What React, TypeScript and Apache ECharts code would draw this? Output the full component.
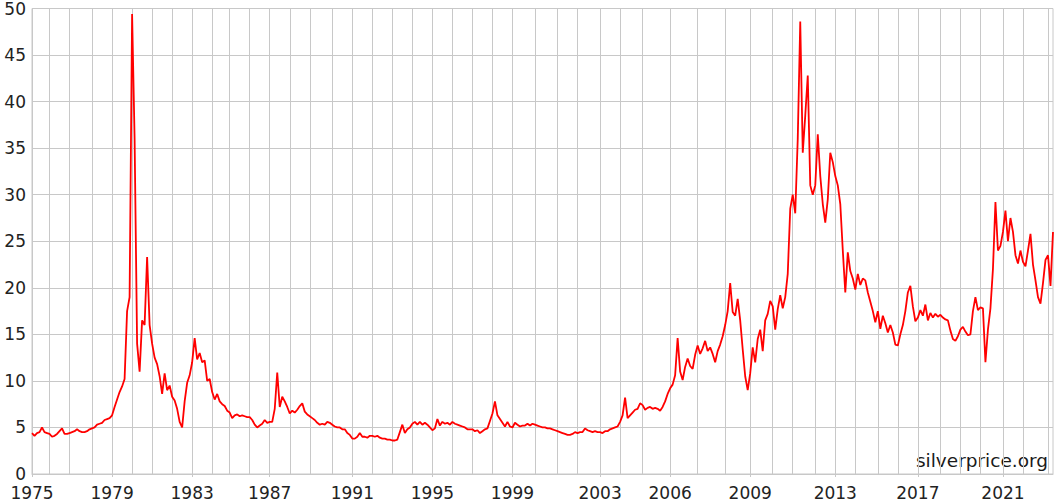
import React, { useEffect, useRef } from 'react';
import * as echarts from 'echarts';

// silver price, USD per ounce, sampled unevenly per year (as the source does)
const firstYear = 1975;
const samplesPerYear = [
  7, 8, 9, 8, 8, // 1975-1979
  8, 8, 8, 8, 7, 8, 8, 8, 8, 9, // 1980s
  8, 8, 8, 8, 8, 8, 8, 8, 8, 9, // 1990s
  9, 8, 9, 8, 9, 11, 11, 11, 10, 9, // 2000s
  8, 9, 8, 8, 9, 8, 8, 9, 8, 8, // 2010s
  9, 8, 10, 3, // 2020-2023
];

const prices1970s = [
  4.4, 4.1, 4.4, 4.5, 5.0, 4.5, 4.4,
  4.3, 4.0, 4.1, 4.3, 4.6, 4.9, 4.3, 4.3,
  4.4, 4.5, 4.6, 4.8, 4.6, 4.5, 4.5, 4.6, 4.8,
  4.9, 5.0, 5.3, 5.4, 5.5, 5.8, 5.9, 6.0,
  6.3, 7.2, 8.0, 8.8, 9.4, 10.2, 17.5, 19.0,
];

const prices1980s = [
  49.4, 36.0, 14.0, 11.0, 16.5, 16.0, 23.3, 16.0,
  14.0, 12.5, 11.8, 10.5, 8.6, 10.8, 9.0, 9.5,
  8.3, 7.9, 7.0, 5.6, 5.0, 7.8, 9.8, 10.6,
  12.0, 14.6, 12.3, 13.0, 12.0, 12.2, 10.0, 10.2,
  8.8, 8.0, 8.6, 7.8, 7.5, 7.3, 6.8,
  6.6, 6.0, 6.3, 6.4, 6.2, 6.3, 6.2, 6.1,
  6.1, 5.8, 5.3, 5.0, 5.2, 5.4, 5.8, 5.5,
  5.6, 5.6, 7.0, 10.9, 7.2, 8.3, 7.8, 7.2,
  6.5, 6.8, 6.6, 6.9, 7.3, 7.6, 6.7, 6.4,
  6.2, 6.0, 5.8, 5.5, 5.3, 5.4, 5.3, 5.6, 5.5,
];

const prices1990s = [
  5.3, 5.1, 5.0, 5.0, 4.8, 4.8, 4.4, 4.2,
  3.8, 3.8, 4.0, 4.4, 4.0, 4.0, 3.9, 4.1,
  4.1, 4.0, 4.1, 3.9, 3.8, 3.8, 3.7, 3.7,
  3.6, 3.6, 3.7, 4.5, 5.3, 4.4, 4.8, 5.0,
  5.4, 5.6, 5.3, 5.6, 5.3, 5.5, 5.3, 5.0,
  4.7, 4.9, 5.9, 5.2, 5.6, 5.4, 5.5, 5.3,
  5.6, 5.4, 5.3, 5.2, 5.1, 5.0, 4.8, 4.8,
  4.8, 4.6, 4.7, 4.4, 4.6, 4.8, 4.9, 5.7,
  6.5, 7.8, 6.3, 5.9, 5.5, 5.1, 5.6, 5.1,
  5.0, 5.5, 5.3, 5.1, 5.2, 5.2, 5.4, 5.2, 5.4,
];

const prices2000s = [
  5.3, 5.2, 5.1, 5.0, 5.0, 4.9, 4.9, 4.8, 4.7,
  4.6, 4.5, 4.4, 4.3, 4.2, 4.2, 4.3, 4.5,
  4.4, 4.5, 4.5, 4.9, 4.7, 4.6, 4.5, 4.6, 4.5,
  4.5, 4.4, 4.6, 4.6, 4.8, 4.9, 5.0, 5.1,
  5.6, 6.3, 8.2, 6.0, 6.3, 6.6, 6.9, 7.0, 7.6,
  7.4, 6.9, 7.1, 7.2, 7.0, 7.1, 7.0, 6.8, 7.2, 7.8, 8.6,
  9.2, 9.6, 10.6, 14.6, 11.0, 10.1, 11.5, 12.4, 11.6, 11.3, 12.8,
  13.8, 12.9, 13.5, 14.3, 13.2, 13.6, 12.9, 12.0, 13.2, 13.9, 14.8,
  16.0, 17.5, 20.5, 17.4, 17.0, 18.8, 16.5, 13.4, 10.5, 9.0,
  10.8, 13.6, 12.0, 14.5, 15.5, 13.2, 16.5, 17.2, 18.6,
];

const prices2010s = [
  18.0, 15.5, 17.7, 19.2, 17.8, 19.0, 21.5, 28.5,
  30.0, 28.0, 36.0, 48.6, 34.5, 38.5, 42.8, 31.0, 30.0,
  31.0, 36.5, 32.0, 29.0, 27.0, 29.5, 34.5, 33.5,
  32.0, 31.0, 29.0, 24.0, 19.5, 23.8, 21.8, 21.0,
  19.8, 21.5, 20.3, 21.0, 20.8, 19.5, 18.5, 17.5, 16.3,
  17.5, 15.6, 17.0, 16.2, 15.2, 16.0, 15.2, 13.9,
  13.8, 15.0, 16.0, 17.5, 19.5, 20.2, 18.0, 16.4,
  16.8, 17.6, 17.0, 18.2, 16.5, 17.3, 16.8, 17.2, 16.9,
  17.1, 16.8, 16.6, 16.5, 15.4, 14.5, 14.3, 14.8,
  15.5, 15.8, 15.3, 14.9, 15.0, 17.5, 19.0, 17.6,
];

const prices2020s = [
  17.9, 17.8, 12.0, 15.5, 17.8, 22.0, 29.2, 24.0, 24.5,
  26.0, 28.3, 25.0, 27.5, 26.0, 23.5, 22.6, 24.0,
  22.8, 22.3, 24.0, 25.8, 22.5, 20.8, 19.0, 18.3, 20.5, 23.0,
  23.5, 20.2, 26.0,
];

const labeledYears = [1975, 1979, 1983, 1987, 1991, 1995, 1999, 2003, 2006, 2009, 2013, 2017, 2021];

const categories: string[] = [];
samplesPerYear.forEach((n, i) => {
  for (let k = 0; k < n; k++) categories.push(`${firstYear + i}-${k}`);
});
const prices = [...prices1970s, ...prices1980s, ...prices1990s, ...prices2000s, ...prices2010s, ...prices2020s];

const yearOf = (v: string) => Number(v.split('-')[0]);
const isYearStart = (v: string) => v.split('-')[1] === '0';
const isLabeled = (_i: number, v: string) => isYearStart(v) && labeledYears.includes(yearOf(v));

const FONT = '"DejaVu Sans", Verdana, sans-serif';

const App: React.FC = () => {
  const chartRef = useRef<HTMLDivElement>(null);

  useEffect(() => {
    if (!chartRef.current) return;
    const chart = echarts.init(chartRef.current, undefined, { renderer: 'svg' });

    chart.setOption({
      animation: false,
      backgroundColor: '#ffffff',
      grid: {
        left: 32,
        right: 4,
        top: 7,
        bottom: 28,
        show: true,
        borderColor: '#c8c8c8',
        borderWidth: 1,
      },
      xAxis: {
        type: 'category',
        data: categories,
        boundaryGap: false,
        axisLine: { lineStyle: { color: '#c8c8c8' } },
        axisTick: { show: true, interval: isLabeled, length: 3, lineStyle: { color: '#c8c8c8' } },
        axisLabel: {
          interval: isLabeled,
          formatter: (v: string) => String(yearOf(v)),
          color: '#222222',
          fontSize: 17,
          fontFamily: FONT,
          margin: 10,
        },
        splitLine: {
          show: true,
          interval: (_i: number, v: string) => isYearStart(v),
          lineStyle: { color: '#c8c8c8', width: 1 },
        },
      },
      yAxis: {
        type: 'value',
        min: 0,
        max: 50,
        interval: 5,
        axisLine: { show: false },
        axisTick: { show: false },
        axisLabel: { color: '#222222', fontSize: 17, fontFamily: FONT, margin: 6 },
        splitLine: { lineStyle: { color: '#c8c8c8', width: 1 } },
      },
      graphic: [
        {
          type: 'text',
          right: 9,
          top: 451,
          style: {
            text: 'silverprice.org',
            font: `18.5px ${FONT}`,
            fill: '#1a1a1a',
          },
        },
      ],
      series: [
        {
          type: 'line',
          data: prices,
          symbol: 'none',
          lineStyle: { color: '#ff0000', width: 1.8 },
          itemStyle: { color: '#ff0000' },
        },
      ],
    });

    return () => {
      chart.dispose();
    };
  }, []);

  return (
    <div
      ref={chartRef}
      style={{ position: 'fixed', left: 0, top: 0, width: '1057px', height: '502px' }}
    />
  );
};

export default App;
